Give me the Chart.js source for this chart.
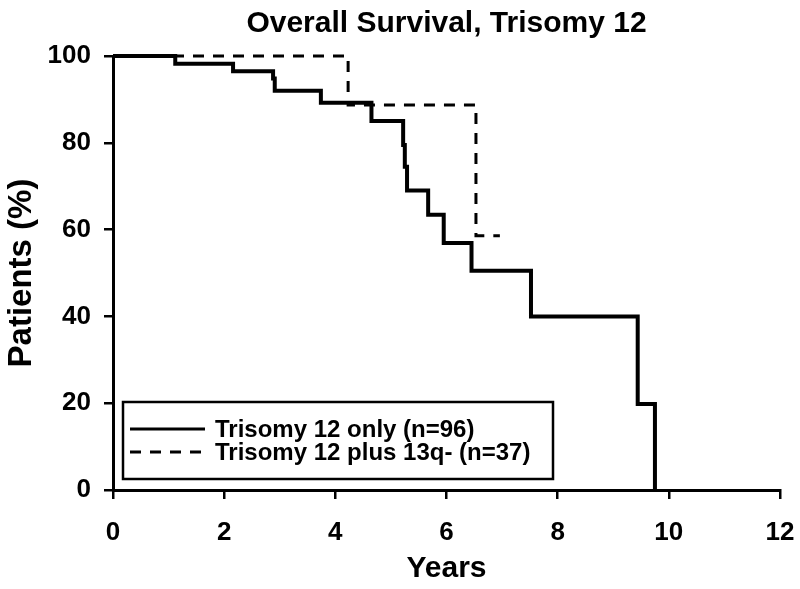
<!DOCTYPE html>
<html>
<head>
<meta charset="utf-8">
<script src="https://cdn.jsdelivr.net/npm/chart.js@4"></script>
<style>
  html, body { margin: 0; padding: 0; background: #fff; }
  #wrap { width: 800px; height: 589px; }
</style>
</head>
<body>
<div id="wrap"><canvas id="survival"></canvas></div>
<script>
// Kaplan-Meier steps (year of drop, survival % after drop)
const seriesLabels = ['Trisomy 12 only (n=96)', 'Trisomy 12 plus 13q- (n=37)'];
const onlyYears = [0, 1.12, 2.16, 2.88, 2.91, 3.74, 4.65, 5.22, 5.25, 5.29, 5.67, 5.95, 6.45, 7.52, 9.44, 9.75];
const onlySurvival = [100, 98.2, 96.5, 94.8, 92.0, 89.2, 85.0, 79.5, 74.5, 69.0, 63.4, 56.9, 50.5, 40.0, 19.8, 0];
const plusYears = [0, 4.23, 6.53, 6.96];
const plusSurvival = [100, 88.7, 58.6, 58.6];
const yearTicks = [0, 2, 4, 6, 8, 10, 12];
const percentTicks = [0, 20, 40, 60, 80, 100];

const FONT = "'Liberation Sans', Arial, sans-serif";

function toPoints(xs, ys) {
  let points = [];
  for (let i = 0; i < xs.length; i++) {
    points.push({ x: xs[i], y: ys[i] });
  }
  return points;
}

// legend drawn as a framed box inside the plot, like the original
const boxLegend = {
  id: 'boxLegend',
  afterDatasetsDraw(chart) {
    const ctx = chart.ctx;
    const area = chart.chartArea;
    const left = area.left + 10, top = area.bottom - 88;
    const width = 430, height = 77;

    ctx.save();
    ctx.fillStyle = '#fff';
    ctx.fillRect(left, top, width, height);
    ctx.lineWidth = 2.5;
    ctx.strokeStyle = '#000';
    ctx.strokeRect(left, top, width, height);

    ctx.font = 'bold 24px ' + FONT;
    ctx.textBaseline = 'middle';
    ctx.fillStyle = '#000';
    chart.data.datasets.forEach((ds, i) => {
      const y = top + 27 + i * 23;
      ctx.beginPath();
      ctx.setLineDash(ds.borderDash || []);
      ctx.lineWidth = 3;
      ctx.moveTo(left + 7, y);
      ctx.lineTo(left + 82, y);
      ctx.stroke();
      ctx.setLineDash([]);
      ctx.fillText(ds.label, left + 92, y + 1);
    });
    ctx.restore();
  }
};

new Chart(document.getElementById('survival'), {
  type: 'line',
  data: {
    datasets: [
      {
        label: seriesLabels[0],
        data: toPoints(onlyYears, onlySurvival),
        borderColor: '#000',
        borderWidth: 4,
        stepped: true,
        pointRadius: 0,
        fill: false,
        clip: 5
      },
      {
        label: seriesLabels[1],
        data: toPoints(plusYears, plusSurvival),
        borderColor: '#000',
        borderWidth: 3,
        borderDash: [11, 9],
        stepped: true,
        pointRadius: 0,
        fill: false,
        clip: 5
      }
    ]
  },
  options: {
    responsive: true,
    maintainAspectRatio: false,
    animation: false,
    layout: { padding: { left: 0, right: 20, top: 0, bottom: 0 } },
    plugins: {
      legend: { display: false },
      tooltip: { enabled: false },
      title: {
        display: true,
        fullSize: false,
        text: 'Overall Survival, Trisomy 12',
        color: '#000',
        font: { family: FONT, size: 30, weight: 'bold', lineHeight: 1.2 },
        padding: { top: 6, bottom: 14 }
      }
    },
    scales: {
      x: {
        type: 'linear',
        min: 0,
        max: 12,
        afterBuildTicks: (scale) => { scale.ticks = yearTicks.map(v => ({ value: v })); },
        afterFit: (scale) => {
          scale.height = 99;
          // keep the plot edge where the original has it; the 20px layout padding covers the "12"
          scale.paddingLeft = 0;
          scale.paddingRight = 0;
        },
        border: { display: true, color: '#000', width: 3 },
        grid: { drawOnChartArea: false, drawTicks: true, tickLength: 9, color: '#000', lineWidth: 2.5 },
        ticks: { color: '#000', padding: 18, maxRotation: 0, font: { family: FONT, size: 26, weight: 'bold' } },
        title: {
          display: true,
          text: 'Years',
          color: '#000',
          font: { family: FONT, size: 30, weight: 'bold', lineHeight: 1.2 },
          padding: { top: 0, bottom: 2 }
        }
      },
      y: {
        type: 'linear',
        min: 0,
        max: 100,
        afterBuildTicks: (scale) => { scale.ticks = percentTicks.map(v => ({ value: v })); },
        afterFit: (scale) => { scale.width = 113; },
        border: { display: true, color: '#000', width: 3 },
        grid: { drawOnChartArea: false, drawTicks: true, tickLength: 9, color: '#000', lineWidth: 2.5 },
        ticks: { color: '#000', padding: 13, font: { family: FONT, size: 26, weight: 'bold' } },
        title: {
          display: true,
          text: 'Patients (%)',
          color: '#000',
          font: { family: FONT, size: 33, weight: 'bold', lineHeight: 1.2 },
          padding: { top: 2, bottom: 0 }
        }
      }
    }
  },
  plugins: [boxLegend]
});
</script>
</body>
</html>
